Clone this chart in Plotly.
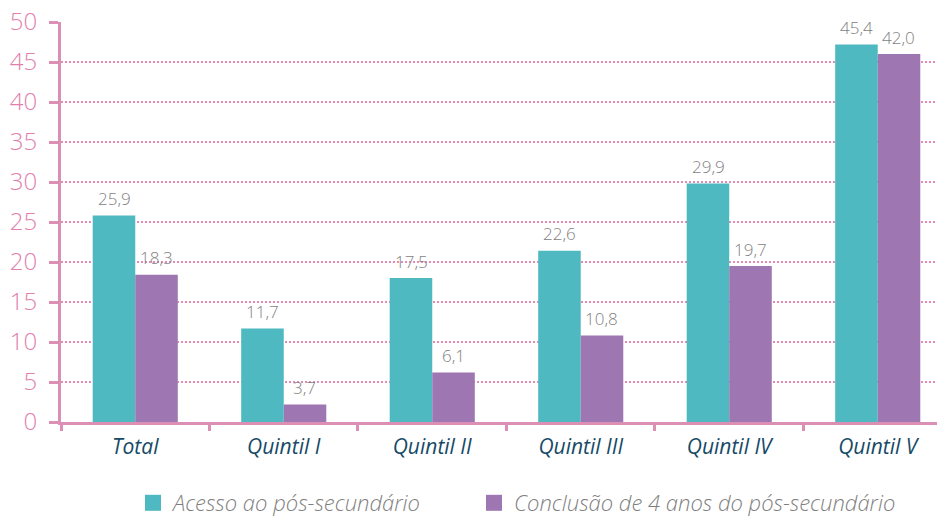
import plotly.graph_objects as go

categories = ["Total", "Quintil I", "Quintil II", "Quintil III", "Quintil IV", "Quintil V"]
acesso = [25.8, 11.7, 18.0, 21.4, 29.8, 47.2]
conclusao = [18.4, 2.2, 6.2, 10.8, 19.5, 46.0]
acesso_labels = ["25,9", "11,7", "17,5", "22,6", "29,9", "45,4"]
conclusao_labels = ["18,3", "3,7", "6,1", "10,8", "19,7", "42,0"]
y_ticks = [0, 5, 10, 15, 20, 25, 30, 35, 40, 45, 50]
series_names = ["Acesso ao pós-secundário", "Conclusão de 4 anos do pós-secundário"]

TEAL = "#4EB9C1"
PURPLE = "#9D76B2"
PINK = "#DB8FB5"
PINK_GRID = "#E58CB6"
PINK_TXT = "#E07FAE"
GRAY = "#7F7F7F"
NAVY = "#164A66"
FONT = "Open Sans"

fig = go.Figure()
for vals, labels, color, name, shift, leg in [
    (acesso, acesso_labels, TEAL, series_names[0], -21, "legend"),
    (conclusao, conclusao_labels, PURPLE, series_names[1], 21, "legend2"),
]:
    fig.add_trace(go.Bar(
        x=categories, y=vals, name=name,
        marker=dict(color=color, line=dict(width=0)),
        showlegend=False,
    ))
    for c, v, t in zip(categories, vals, labels):
        fig.add_annotation(
            x=c, y=v, text=t, showarrow=False, xshift=shift, yshift=17,
            font=dict(family=FONT, size=17, color=GRAY, weight=300),
        )
    # legend entry with larger square symbol
    fig.add_trace(go.Scatter(
        x=[None], y=[None], mode="markers", name=name, legend=leg,
        marker=dict(symbol="square", size=18, color=color),
    ))

leg_common = dict(
    orientation="h", xref="container", xanchor="left",
    yref="container", y=0.0275, yanchor="middle",
    font=dict(family=FONT, size=22, color=GRAY, style="italic", weight=300),
    itemwidth=30, bgcolor="rgba(0,0,0,0)",
)

fig.update_layout(
    width=937, height=509,
    margin=dict(l=53, r=0, t=14, b=95),
    paper_bgcolor="white", plot_bgcolor="white",
    barmode="group", bargap=0.427, bargroupgap=0,
    font=dict(family=FONT),
    showlegend=True,
    legend=dict(x=125 / 937, **leg_common),
    legend2=dict(x=466 / 937, **leg_common),
)
fig.update_xaxes(
    type="category", range=[-0.5, 5.453],
    showline=True, linecolor=PINK, linewidth=3,
    ticks="outside", tickson="boundaries", ticklen=6, tickwidth=3, tickcolor=PINK,
    tickfont=dict(family=FONT, size=21, color=NAVY, style="italic"),
    ticklabelstandoff=4,
    showgrid=False, zeroline=False, automargin=False,
)
fig.update_yaxes(
    range=[0, 50], tickvals=y_ticks,
    showline=True, linecolor=PINK, linewidth=3,
    ticks="outside", ticklen=9, tickwidth=3, tickcolor=PINK,
    tickfont=dict(family=FONT, size=24, color=PINK_TXT, weight=300),
    ticklabelstandoff=7, ticklabeloverflow="allow",
    showgrid=True, gridcolor=PINK_GRID, gridwidth=1.5, griddash="1.5px,2.5px",
    zeroline=False, automargin=False,
)

fig.write_html("out.html")
